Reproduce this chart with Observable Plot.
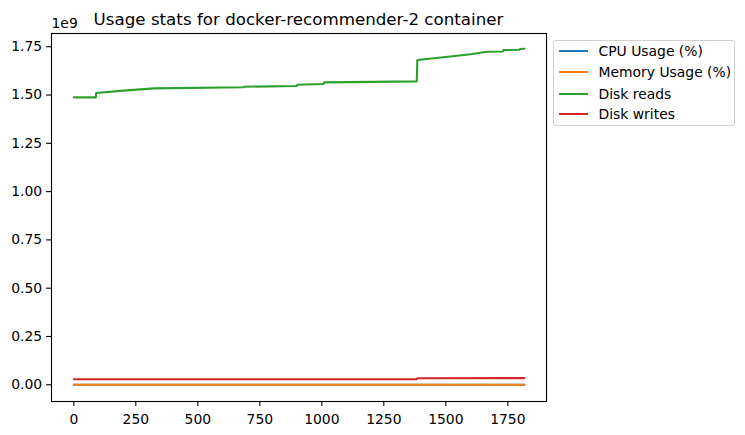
<!DOCTYPE html>
<html><head><meta charset="utf-8">
<script src="https://cdn.jsdelivr.net/npm/d3@7"></script>
<script src="https://cdn.jsdelivr.net/npm/@observablehq/plot@0.6"></script>
<style>
body{margin:0;background:#fff;font-family:"DejaVu Sans",sans-serif;color:#000;}
#wrap{position:relative;width:745px;height:435px;overflow:hidden;}
#title{position:absolute;left:51px;width:495px;top:8.6px;text-align:center;font-size:16.7px;line-height:20px;white-space:nowrap;}
#legend{position:absolute;left:553px;top:39.5px;width:182px;height:86px;border:1px solid #d0d0d0;border-radius:3px;background:rgba(255,255,255,0.8);box-sizing:border-box;}
.row{position:absolute;left:0;height:20px;width:100%;font-size:13.9px;line-height:20px;white-space:nowrap;}
.row .sw{position:absolute;left:4.5px;top:9px;width:29.5px;height:2.1px;}
.row .lb{position:absolute;left:44.5px;top:0;}
#wrap svg{position:absolute;left:0;top:0;}
</style></head>
<body>
<div id="wrap">
  <div id="chart"></div>
  <div id="title">Usage stats for docker-recommender-2 container</div>
  <div id="legend"></div>
</div>
<script>
// ---- data ----
const seriesNames = ["CPU Usage (%)", "Memory Usage (%)", "Disk reads", "Disk writes"];
const seriesColors = ["#1f77b4", "#ff7f0e", "#2ca02c", "#d62728"];

const cpuTime  = [0, 450, 900, 1385, 1817];
const cpuValue = [0.4, 0.6, 0.5, 0.8, 0.6];

const memTime  = [0, 450, 900, 1385, 1817];
const memValue = [2.1, 2.2, 2.2, 2.4, 2.4];

const readsTime  = [0, 89, 90, 200, 324, 686, 687, 900, 901, 1007, 1008, 1200, 1383, 1385, 1500, 1600, 1665, 1731, 1732, 1798, 1799, 1817];
const readsValue = [1.488e9, 1.488e9, 1.5105e9, 1.523e9, 1.5346e9, 1.540e9, 1.543e9, 1.547e9, 1.5535e9, 1.557e9, 1.5656e9, 1.568e9, 1.5708e9, 1.681e9, 1.697e9, 1.711e9, 1.7243e9, 1.7255e9, 1.7329e9, 1.7345e9, 1.738e9, 1.740e9];

const writesTime  = [0, 700, 1383, 1385, 1817];
const writesValue = [0.0285e9, 0.0290e9, 0.0293e9, 0.0340e9, 0.0343e9];

const xTicks = [0, 250, 500, 750, 1000, 1250, 1500, 1750];
const yTicks = [0, 0.25e9, 0.5e9, 0.75e9, 1.0e9, 1.25e9, 1.5e9, 1.75e9];
const yTickLabels = ["0.00", "0.25", "0.50", "0.75", "1.00", "1.25", "1.50", "1.75"];

// ---- build table ----
const rows = [];
function add(name, ts, vs) { ts.forEach((t, i) => rows.push({series: name, time: t, value: vs[i]})); }
add(seriesNames[0], cpuTime, cpuValue);
add(seriesNames[1], memTime, memValue);
add(seriesNames[2], readsTime, readsValue);
add(seriesNames[3], writesTime, writesValue);

const chart = Plot.plot({
  width: 745,
  height: 435,
  marginLeft: 51,
  marginRight: 199,
  marginTop: 33,
  marginBottom: 34,
  style: {fontFamily: "DejaVu Sans", fontSize: "13.9px", color: "black", background: "transparent", overflow: "visible"},
  x: {domain: [-90, 1906]},
  y: {domain: [-0.0866e9, 1.8186e9]},
  color: {domain: seriesNames, range: seriesColors},
  marks: [
    Plot.line(rows, {x: "time", y: "value", z: "series", stroke: "series", strokeWidth: 2.08, strokeLinejoin: "miter"}),
    Plot.frame({stroke: "black", strokeWidth: 1.1}),
    Plot.axisX({ticks: xTicks, tickSize: 4.9, tickPadding: 8, tickFormat: d => String(d), label: null, strokeWidth: 1.1}),
    Plot.axisY({ticks: yTicks, tickSize: 4.9, tickPadding: 4.5, tickFormat: d => yTickLabels[yTicks.indexOf(d)], label: null, strokeWidth: 1.1}),
    Plot.text(["1e9"], {frameAnchor: "top-left", text: d => d, dy: -5.4, lineAnchor: "bottom", textAnchor: "start", fontSize: 13.9})
  ]
});
document.getElementById("chart").appendChild(chart);

// ---- legend ----
const legend = document.getElementById("legend");
const rowCenters = [10.5, 31.2, 53.2, 73.8];
seriesNames.forEach((n, i) => {
  const r = document.createElement("div");
  r.className = "row";
  r.style.top = (rowCenters[i] - 10) + "px";
  r.innerHTML = `<span class="sw" style="background:${seriesColors[i]}"></span><span class="lb">${n}</span>`;
  legend.appendChild(r);
});
</script>
</body></html>
